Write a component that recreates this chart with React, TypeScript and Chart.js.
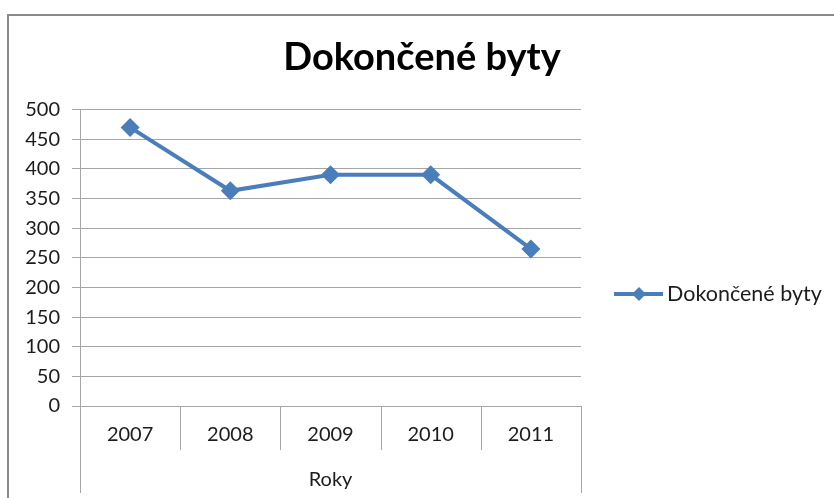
import React, { useEffect, useRef } from 'react';
import { Chart, registerables } from 'chart.js';

Chart.register(...registerables);

const categories = ['2007', '2008', '2009', '2010', '2011'];
const values = [470, 363, 390, 390, 265];
const seriesName = 'Dokončené byty';
const chartTitle = 'Dokončené byty';
const xAxisTitle = 'Roky';
const yMin = 0;
const yMax = 500;
const yStep = 50;

const FONT = 'Lato, "Open Sans", sans-serif';
const LINE_COLOR = '#4A7EBB';
const GRID_COLOR = '#A6A6A6';
const TEXT_COLOR = '#1c1c1c';

const decorPlugin = {
  id: 'decor',
  afterDraw(chart: any) {
    const { ctx, chartArea, scales } = chart;
    const xs = scales.x;
    const half = (xs.getPixelForValue(1) - xs.getPixelForValue(0)) / 2;
    ctx.save();
    ctx.strokeStyle = GRID_COLOR;
    ctx.lineWidth = 1;
    const n = categories.length;
    for (let i = 0; i <= n; i++) {
      const px = Math.round(xs.getPixelForValue(0) - half + i * 2 * half) + 0.5;
      const outer = i === 0 || i === n;
      ctx.beginPath();
      ctx.moveTo(px, chartArea.bottom);
      ctx.lineTo(px, chartArea.bottom + (outer ? 87 : 44));
      ctx.stroke();
    }
    // legend
    const ly = Math.round(chartArea.bottom - 112);
    const lx = chartArea.right + 33;
    ctx.strokeStyle = LINE_COLOR;
    ctx.lineWidth = 4;
    ctx.beginPath();
    ctx.moveTo(lx, ly);
    ctx.lineTo(lx + 49, ly);
    ctx.stroke();
    ctx.fillStyle = LINE_COLOR;
    ctx.beginPath();
    const cx = lx + 25;
    const r = 7;
    ctx.moveTo(cx, ly - r);
    ctx.lineTo(cx + r, ly);
    ctx.lineTo(cx, ly + r);
    ctx.lineTo(cx - r, ly);
    ctx.closePath();
    ctx.fill();
    ctx.fillStyle = TEXT_COLOR;
    ctx.font = `21.5px ${FONT}`;
    ctx.textAlign = 'left';
    ctx.textBaseline = 'middle';
    ctx.fillText(seriesName, lx + 53, ly);
    ctx.restore();
  },
};

export default function App() {
  const ref = useRef<HTMLCanvasElement | null>(null);
  useEffect(() => {
    if (!ref.current) return;
    const chart = new Chart(ref.current, {
      type: 'line',
      data: {
        labels: categories,
        datasets: [
          {
            label: seriesName,
            data: values,
            borderColor: LINE_COLOR,
            backgroundColor: LINE_COLOR,
            borderWidth: 4,
            pointStyle: 'rectRot',
            pointRadius: 9.5,
            pointBorderWidth: 0,
            pointBackgroundColor: LINE_COLOR,
            tension: 0,
            yAxisID: 'y',
          },
        ],
      },
      options: {
        animation: false,
        responsive: false,
        devicePixelRatio: 1,
        layout: { padding: { left: 10, right: 0, top: 0, bottom: 0 } },
        plugins: {
          legend: { display: false },
          tooltip: { enabled: false },
          title: {
            display: true,
            text: chartTitle,
            color: '#000',
            font: { family: FONT, size: 38, weight: 'bold' },
            padding: { top: 35, bottom: 29 },
          },
        },
        scales: {
          x: {
            type: 'category',
            offset: true,
            grid: { display: true, drawOnChartArea: false, drawTicks: false },
            border: { display: true, color: GRID_COLOR },
            ticks: { color: TEXT_COLOR, font: { family: FONT, size: 20 }, padding: 17, maxRotation: 0 },
            title: {
              display: true,
              text: xAxisTitle,
              color: TEXT_COLOR,
              font: { family: FONT, size: 20 },
              padding: { top: 0, bottom: 6 },
            },
            afterFit(scale: any) {
              scale.height = 92;
            },
          },
          y: {
            min: yMin,
            max: yMax,
            ticks: { stepSize: yStep, color: TEXT_COLOR, font: { family: FONT, size: 20 }, padding: 12 },
            grid: { color: GRID_COLOR, tickLength: 8, lineWidth: 1 },
            border: { display: true, color: GRID_COLOR },
            afterFit(scale: any) {
              scale.width = 70;
            },
          },
          legendSpace: {
            type: 'linear',
            position: 'right',
            display: true,
            min: 0,
            max: 1,
            grid: { display: false, drawTicks: false },
            border: { display: false },
            ticks: { display: false },
            afterFit(scale: any) {
              scale.width = 253;
            },
          },
        },
      },
      plugins: [decorPlugin],
    });
    return () => chart.destroy();
  }, []);

  return (
    <div style={{ position: 'absolute', left: 0, top: 0, width: 834, height: 498, background: '#fff', overflow: 'hidden' }}>
      <canvas ref={ref} width={834} height={498} style={{ position: 'absolute', left: 0, top: 0, width: 834, height: 498 }} />
      <div style={{ position: 'absolute', left: 7, top: 14, width: 827, height: 2, background: '#8a8a8a' }} />
      <div style={{ position: 'absolute', left: 7, top: 14, width: 2, height: 484, background: '#8a8a8a' }} />
    </div>
  );
}
